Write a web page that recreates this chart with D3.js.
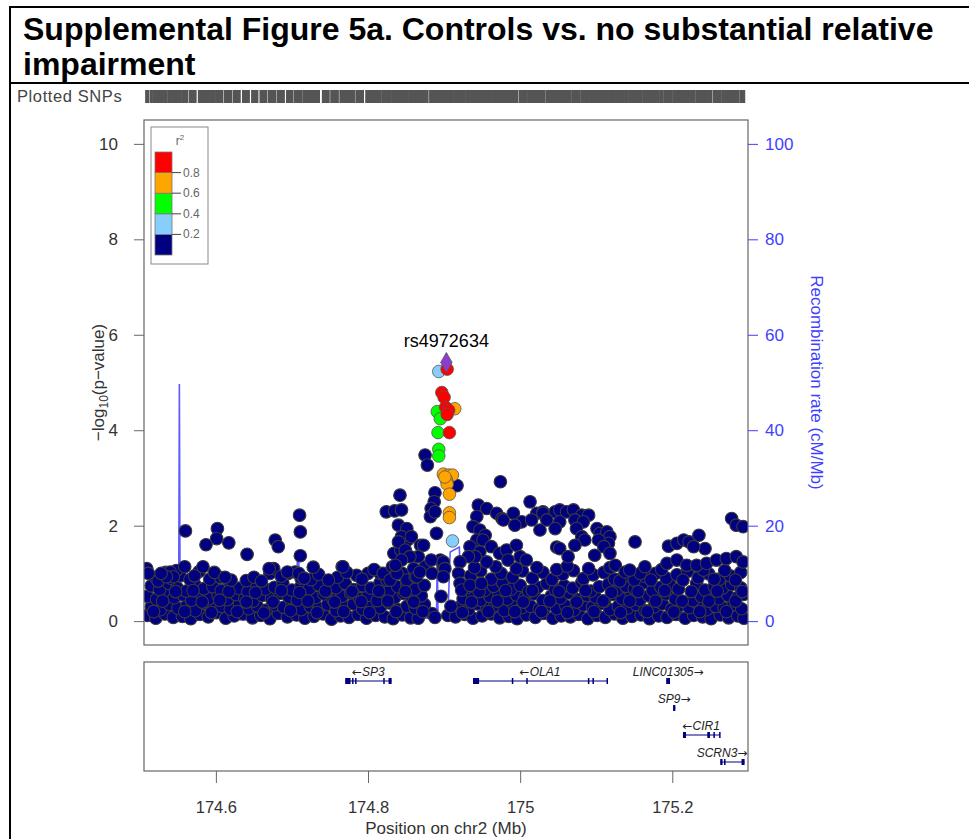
<!DOCTYPE html>
<html>
<head>
<meta charset="utf-8">
<script src="https://cdn.jsdelivr.net/npm/d3@7"></script>
<style>
  body { margin: 0; background: #fff; }
  svg { display: block; font-family: "Liberation Sans", Arial, sans-serif; }
</style>
</head>
<body>
<svg id="chart" width="969" height="839"></svg>
<script>
const titleLines = ['Supplemental Figure 5a. Controls vs. no substantial relative', 'impairment'];
const xTicks = [174.6, 174.8, 175, 175.2];
const yTicks = [0, 2, 4, 6, 8, 10];
const recombTicks = [0, 20, 40, 60, 80, 100];
const r2Breaks = [0.2, 0.4, 0.6, 0.8];
const r2Colors = ['#000080', '#87cefa', '#00ff00', '#ffa500', '#ff0000'];

const leadSnp = { name: 'rs4972634', pos: 174.903, logp: 5.42 };

// [position Mb, -log10 p, r2]
const ldSnps = [
  [174.893, 5.23, 0.3], [174.911, 1.68, 0.3],
  [174.891, 4.39, 0.5], [174.895, 4.24, 0.5], [174.892, 3.95, 0.5], [174.893, 3.60, 0.5], [174.893, 3.46, 0.5],
  [174.914, 4.45, 0.7], [174.899, 3.08, 0.7], [174.906, 3.06, 0.7], [174.911, 3.06, 0.7], [174.903, 2.96, 0.7],
  [174.904, 2.87, 0.7], [174.901, 3.02, 0.7], [174.907, 2.66, 0.7], [174.907, 2.27, 0.7], [174.907, 2.17, 0.7],
  [174.904, 5.28, 0.9], [174.897, 4.79, 0.9], [174.900, 4.69, 0.9], [174.902, 4.48, 0.9], [174.906, 4.42, 0.9],
  [174.904, 4.33, 0.9], [174.907, 3.95, 0.9]
];

// dense low band, [position Mb, -log10 p]
const bandLow = [
  [174.510, 0.12], [174.521, 0.06], [174.533, 0.15], [174.544, 0.08], [174.556, 0.10], [174.567, 0.05],
  [174.579, 0.14], [174.590, 0.09], [174.601, 0.18], [174.613, 0.06], [174.624, 0.11], [174.636, 0.15],
  [174.648, 0.07], [174.659, 0.12], [174.671, 0.05], [174.682, 0.16], [174.694, 0.09], [174.706, 0.13],
  [174.717, 0.06], [174.729, 0.10], [174.741, 0.15], [174.752, 0.04], [174.764, 0.11], [174.775, 0.08],
  [174.787, 0.14], [174.798, 0.06], [174.810, 0.12], [174.822, 0.09], [174.833, 0.05], [174.845, 0.13],
  [174.856, 0.07], [174.866, 0.06], [174.884, 0.16], [174.888, 0.08], [174.905, 0.12], [174.915, 0.09],
  [174.927, 0.14], [174.938, 0.06], [174.950, 0.11], [174.962, 0.15], [174.973, 0.07], [174.985, 0.10],
  [174.996, 0.05], [175.008, 0.13], [175.020, 0.08], [175.031, 0.16], [175.043, 0.06], [175.054, 0.11],
  [175.066, 0.09], [175.077, 0.14], [175.089, 0.05], [175.101, 0.12], [175.112, 0.08], [175.124, 0.15],
  [175.135, 0.06], [175.147, 0.10], [175.159, 0.13], [175.170, 0.05], [175.182, 0.11], [175.193, 0.08],
  [175.205, 0.14], [175.217, 0.06], [175.228, 0.12], [175.240, 0.09], [175.251, 0.05], [175.263, 0.13],
  [175.274, 0.07], [175.286, 0.11], [175.294, 0.06]
];

const bandMid = [
  [174.515, 0.30], [174.527, 0.24], [174.539, 0.35], [174.550, 0.27], [174.562, 0.33], [174.573, 0.22],
  [174.585, 0.38], [174.596, 0.28], [174.608, 0.31], [174.619, 0.25], [174.631, 0.36], [174.643, 0.26],
  [174.654, 0.32], [174.666, 0.23], [174.677, 0.34], [174.689, 0.29], [174.700, 0.37], [174.712, 0.24],
  [174.724, 0.31], [174.735, 0.27], [174.747, 0.35], [174.758, 0.22], [174.770, 0.30], [174.781, 0.36],
  [174.793, 0.25], [174.805, 0.33], [174.816, 0.28], [174.828, 0.38], [174.839, 0.24], [174.851, 0.31],
  [174.862, 0.27], [174.874, 0.35], [174.921, 0.30], [174.932, 0.24], [174.944, 0.36], [174.956, 0.27],
  [174.967, 0.33], [174.979, 0.22], [174.990, 0.37], [175.002, 0.28], [175.014, 0.31], [175.025, 0.25],
  [175.037, 0.35], [175.048, 0.26], [175.060, 0.32], [175.071, 0.23], [175.083, 0.34], [175.095, 0.29],
  [175.106, 0.37], [175.118, 0.24], [175.129, 0.31], [175.141, 0.27], [175.152, 0.35], [175.164, 0.22],
  [175.176, 0.30], [175.187, 0.36], [175.199, 0.25], [175.210, 0.33], [175.222, 0.28], [175.233, 0.38],
  [175.245, 0.24], [175.257, 0.31], [175.268, 0.27], [175.280, 0.35], [175.291, 0.26],
  [174.510, 0.52], [174.522, 0.46], [174.533, 0.57], [174.545, 0.49], [174.557, 0.55], [174.568, 0.44],
  [174.580, 0.58], [174.591, 0.47], [174.603, 0.53], [174.615, 0.45], [174.626, 0.56], [174.638, 0.48],
  [174.649, 0.42], [174.661, 0.54], [174.673, 0.47], [174.684, 0.58], [174.696, 0.50], [174.707, 0.44],
  [174.719, 0.55], [174.731, 0.49], [174.742, 0.57], [174.754, 0.45], [174.766, 0.52], [174.777, 0.59],
  [174.789, 0.47], [174.800, 0.54], [174.812, 0.43], [174.824, 0.56], [174.835, 0.49], [174.847, 0.58],
  [174.858, 0.46], [174.870, 0.53], [174.925, 0.47], [174.937, 0.56], [174.948, 0.44], [174.960, 0.52],
  [174.972, 0.58], [174.983, 0.46], [174.995, 0.55], [175.006, 0.49], [175.018, 0.57], [175.030, 0.43],
  [175.041, 0.53], [175.053, 0.48], [175.064, 0.59], [175.076, 0.45], [175.088, 0.54], [175.099, 0.50],
  [175.111, 0.42], [175.122, 0.56], [175.134, 0.47], [175.146, 0.58], [175.157, 0.44], [175.169, 0.53],
  [175.180, 0.49], [175.192, 0.57], [175.204, 0.46], [175.227, 0.43], [175.238, 0.52], [175.250, 0.58],
  [175.261, 0.47], [175.273, 0.54], [175.285, 0.49], [175.294, 0.56]
];

const bandHigh = [
  [174.515, 0.74], [174.526, 0.66], [174.538, 0.79], [174.549, 0.70], [174.561, 0.63], [174.572, 0.77],
  [174.584, 0.68], [174.596, 0.72], [174.607, 0.64], [174.619, 0.78], [174.630, 0.69], [174.642, 0.62],
  [174.654, 0.75], [174.665, 0.67], [174.677, 0.71], [174.688, 0.80], [174.700, 0.65], [174.712, 0.73],
  [174.723, 0.68], [174.735, 0.76], [174.746, 0.63], [174.758, 0.70], [174.770, 0.79], [174.781, 0.66],
  [174.793, 0.74], [174.804, 0.69], [174.816, 0.81], [174.828, 0.64], [174.839, 0.72], [174.851, 0.77],
  [174.862, 0.67], [174.874, 0.75], [174.930, 0.70], [174.942, 0.78], [174.953, 0.64], [174.965, 0.73],
  [174.977, 0.80], [174.988, 0.67], [175.000, 0.75], [175.011, 0.62], [175.023, 0.71], [175.035, 0.79],
  [175.046, 0.66], [175.058, 0.74], [175.069, 0.69], [175.081, 0.81], [175.093, 0.63], [175.104, 0.72],
  [175.116, 0.77], [175.127, 0.65], [175.139, 0.73], [175.150, 0.68], [175.162, 0.80], [175.174, 0.64],
  [175.185, 0.71], [175.197, 0.76], [175.208, 0.67], [175.232, 0.79], [175.243, 0.65], [175.255, 0.72],
  [175.266, 0.69], [175.278, 0.77], [175.290, 0.70],
  [174.509, 1.08], [174.520, 0.92], [174.534, 1.02], [174.541, 0.90], [174.553, 0.95], [174.566, 0.87],
  [174.578, 1.04], [174.592, 0.88], [174.606, 0.92], [174.640, 0.85], [174.671, 1.00], [174.676, 1.10],
  [174.695, 1.00], [174.704, 1.03], [174.712, 0.90], [174.725, 0.87], [174.760, 0.92], [174.785, 0.96],
  [174.800, 1.00], [174.816, 1.00], [174.825, 0.86], [174.845, 1.00], [174.851, 0.86], [174.862, 0.93],
  [174.935, 0.95], [174.948, 1.05], [174.962, 0.88], [174.975, 1.00], [174.990, 0.92], [175.003, 1.05],
  [175.016, 0.90], [175.030, 1.02], [175.042, 0.87], [175.056, 0.98], [175.070, 1.06], [175.083, 0.89],
  [175.096, 0.97], [175.110, 1.02], [175.124, 0.88], [175.137, 0.95], [175.150, 0.86], [175.165, 0.93],
  [175.178, 1.00], [175.192, 0.90], [175.206, 0.97], [175.220, 1.04], [175.234, 0.91], [175.248, 0.99],
  [175.262, 0.88], [175.276, 0.95], [175.290, 1.02]
];

const bandFill = [
  [174.518, 0.20], [174.530, 0.42], [174.547, 0.62], [174.559, 0.20], [174.570, 0.64], [174.582, 0.40],
  [174.594, 0.18], [174.605, 0.44], [174.617, 0.62], [174.628, 0.20], [174.640, 0.40], [174.652, 0.60],
  [174.663, 0.17], [174.675, 0.40], [174.686, 0.64], [174.698, 0.22], [174.710, 0.60], [174.721, 0.42],
  [174.733, 0.18], [174.744, 0.63], [174.756, 0.40], [174.768, 0.20], [174.779, 0.62], [174.791, 0.41],
  [174.802, 0.18], [174.814, 0.63], [174.826, 0.42], [174.837, 0.20], [174.849, 0.62], [174.860, 0.40],
  [174.872, 0.20], [174.924, 0.18], [174.936, 0.40], [174.946, 0.62], [174.958, 0.20], [174.970, 0.42],
  [174.981, 0.64], [174.993, 0.20], [175.004, 0.40], [175.016, 0.64], [175.028, 0.20], [175.039, 0.42],
  [175.051, 0.62], [175.062, 0.18], [175.074, 0.40], [175.086, 0.64], [175.097, 0.20], [175.109, 0.42],
  [175.120, 0.60], [175.132, 0.18], [175.144, 0.42], [175.155, 0.62], [175.167, 0.20], [175.178, 0.42],
  [175.190, 0.64], [175.202, 0.19], [175.213, 0.42], [175.225, 0.62], [175.236, 0.20], [175.248, 0.42],
  [175.259, 0.63], [175.271, 0.20], [175.283, 0.42], [175.292, 0.62],
  [174.524, 0.84], [174.548, 1.06], [174.572, 0.95], [174.598, 1.02], [174.620, 0.86], [174.650, 0.92],
  [174.660, 0.84], [174.686, 0.94], [174.735, 0.98], [174.748, 0.86], [174.772, 1.02], [174.792, 0.88],
  [174.808, 1.08], [174.940, 1.12], [174.968, 1.14], [174.995, 1.10], [175.022, 1.12], [175.048, 1.08],
  [175.062, 1.15], [175.090, 1.10], [175.118, 1.12], [175.131, 0.84], [175.158, 1.00], [175.172, 0.86],
  [175.186, 1.08], [175.214, 0.86], [175.241, 1.07], [175.255, 0.88], [175.269, 1.06], [175.283, 0.86]
];

const bgUpper = [
  [174.560, 1.89], [174.602, 1.94], [174.601, 1.73], [174.587, 1.60], [174.617, 1.64], [174.641, 1.40],
  [174.678, 1.70], [174.682, 1.56], [174.710, 2.22], [174.711, 1.87], [174.711, 1.37], [174.766, 1.14],
  [174.728, 1.13], [174.583, 1.14], [174.559, 1.14], [174.509, 1.10], [174.511, 1.00], [174.540, 1.03],
  [174.544, 0.93], [174.535, 0.93], [174.528, 1.00], [174.612, 0.92], [174.670, 1.10], [174.694, 1.03],
  [174.709, 1.00], [174.716, 0.90], [174.820, 1.00], [174.829, 0.86],
  [174.834, 1.42], [174.843, 1.49], [174.848, 1.35], [174.852, 1.70], [174.869, 1.59], [174.866, 1.35],
  [174.875, 1.14], [174.884, 1.00], [174.895, 1.28], [174.899, 1.14], [174.832, 1.14], [174.838, 1.00],
  [174.875, 3.48], [174.878, 3.27], [174.974, 2.92], [174.917, 2.84], [174.842, 2.64], [174.888, 2.69],
  [174.887, 2.50], [174.883, 2.36], [174.882, 2.19], [174.888, 2.29], [174.824, 2.29], [174.835, 2.31],
  [174.844, 2.33], [174.840, 2.01], [174.851, 1.94], [174.844, 1.77], [174.857, 1.77], [174.840, 1.66],
  [174.890, 1.84], [174.873, 1.59], [174.849, 1.49], [174.855, 1.35], [174.844, 1.28], [174.767, 1.14],
  [174.883, 1.28], [174.899, 1.24], [174.901, 1.10], [174.899, 0.93], [174.860, 1.10],
  [174.864, 0.93], [174.868, 1.03], [174.836, 1.17],
  [174.945, 2.43], [174.956, 2.36], [174.969, 2.26], [174.976, 2.15], [174.943, 2.19], [174.938, 1.98],
  [174.947, 1.91], [174.954, 1.80], [174.943, 1.70], [174.978, 2.12], [174.991, 2.26], [175.002, 2.08],
  [175.013, 2.50], [175.022, 2.26], [175.030, 2.29], [175.026, 1.91], [175.015, 2.12], [174.993, 2.01],
  [174.951, 1.70], [174.962, 1.56], [174.973, 1.42], [174.982, 1.49], [174.995, 1.59], [175.000, 1.35],
  [175.008, 1.28], [174.984, 1.28], [174.934, 1.56], [174.947, 1.45], [174.941, 1.35], [174.956, 1.24],
  [174.932, 1.35], [174.921, 1.24], [174.919, 1.00], [174.921, 0.79], [174.923, 0.65], [174.934, 0.75],
  [174.949, 0.79], [174.896, 0.52], [174.909, 0.31],
  [175.030, 2.26], [175.046, 2.29], [175.052, 2.33], [175.061, 2.29], [175.070, 2.33], [175.081, 2.22],
  [175.090, 2.22], [175.035, 2.12], [175.052, 2.08], [175.072, 2.12], [175.083, 2.08], [175.046, 1.94],
  [175.074, 1.94], [175.081, 1.77], [175.085, 1.70], [175.101, 1.94], [175.105, 1.84], [175.114, 1.87],
  [175.118, 1.77], [175.116, 1.63], [175.103, 1.70], [175.110, 1.56], [175.118, 1.42], [175.098, 1.38],
  [175.072, 1.59], [175.048, 1.55], [175.052, 1.52], [175.063, 1.35], [175.151, 1.66], [175.164, 1.14],
  [175.195, 1.57], [175.206, 1.63], [175.215, 1.70], [175.222, 1.66], [175.235, 1.80], [175.243, 1.52],
  [175.228, 1.56], [175.278, 2.15], [175.284, 2.01], [175.293, 1.98], [175.193, 1.21], [175.206, 1.28],
  [175.219, 1.17], [175.232, 1.17], [175.245, 1.21], [175.258, 1.28], [175.271, 1.31], [175.284, 1.35],
  [175.293, 1.24], [175.125, 1.17], [175.138, 1.03], [175.144, 1.07]
];

// [position Mb, cM/Mb]
const recombRate = [
  [174.506, 0.8], [174.550, 0.8], [174.551, 1.2], [174.552, 49.7], [174.553, 1.5], [174.560, 1.0],
  [174.575, 0.3], [174.590, 1.2], [174.600, 0.6], [174.601, 2.5], [174.606, 2.0], [174.607, 0.8],
  [174.622, 0.3], [174.640, 0.3], [174.660, 0.6], [174.690, 0.5], [174.706, 0.6], [174.707, 12.5],
  [174.709, 12.5], [174.710, 0.5], [174.760, 0.4], [174.800, 0.3], [174.840, 0.5], [174.880, 0.6],
  [174.890, 0.6], [174.891, 13.6], [174.892, 1.0], [174.905, 1.0], [174.908, 14.5], [174.920, 15.5],
  [174.922, 6.5], [174.925, 0.5], [174.980, 0.4], [175.000, 0.4], [175.030, 0.8], [175.040, 0.8],
  [175.045, 1.2], [175.085, 1.2], [175.086, 2.0], [175.100, 2.0], [175.101, 0.6], [175.140, 0.6],
  [175.141, 3.8], [175.145, 3.8], [175.146, 0.5], [175.200, 0.3], [175.270, 0.5], [175.275, 3.3],
  [175.285, 3.3], [175.287, 0.2], [175.300, 0.2]
];

const geneNames = ['SP3', 'OLA1', 'LINC01305', 'SP9', 'CIR1', 'SCRN3'];
const geneStart = [174.770, 174.938, 175.192, 175.201, 175.214, 175.263];
const geneEnd = [174.831, 175.114, 175.197, 175.204, 175.262, 175.295];
const geneStrand = ['-', '-', '+', '+', '-', '+'];
const geneRow = [0, 0, 0, 1, 2, 3];
const geneExons = [
  [[174.770, 174.777], [174.779, 174.7795], [174.783, 174.7835], [174.820, 174.8205], [174.827, 174.831]],
  [[174.938, 174.946], [174.989, 174.9895], [175.008, 175.0085], [175.089, 175.0895], [175.095, 175.0955], [175.1135, 175.114]],
  [[175.192, 175.197]],
  [[175.201, 175.204]],
  [[175.214, 175.218], [175.246, 175.2495], [175.254, 175.2545], [175.2615, 175.262]],
  [[175.263, 175.266], [175.268, 175.270], [175.291, 175.295]]
];

const chart = {
  plotLeft: 144,
  plotRight: 748,
  plotTop: 120,
  plotBottom: 645,
  geneTop: 662,
  geneBottom: 771,
  pointRadius: 6.3,
  textColor: '#333',
  recombColor: '#3f3fff',

  init() {
    this.svg = d3.select('#chart');
    this.x = d3.scaleLinear().domain([174.5055, 175.2995]).range([this.plotLeft, this.plotRight]);
    this.y = d3.scaleLinear().domain([-0.5, 10.5]).range([this.plotBottom, this.plotTop]);
    this.yRecomb = d3.scaleLinear().domain([-5, 105]).range([this.plotBottom, this.plotTop]);
    this.geneY = d3.scaleLinear().domain([0, 3]).range([681, 762]);
    this.colorScale = d3.scaleThreshold().domain(r2Breaks).range(r2Colors);

    this.drawTitle();
    this.drawRug();
    this.drawPlotFrame();
    this.drawRecomb();
    this.drawPoints();
    this.drawAxes();
    this.drawLegend();
    this.drawGenes();
  },

  drawTitle() {
    const g = this.svg.append('g');
    g.append('line').attr('x1', 9).attr('x2', 969).attr('y1', 7).attr('y2', 7)
      .attr('stroke', '#000').attr('stroke-width', 2);
    g.append('line').attr('x1', 10).attr('x2', 10).attr('y1', 6).attr('y2', 839)
      .attr('stroke', '#000').attr('stroke-width', 2);
    g.append('line').attr('x1', 10).attr('x2', 969).attr('y1', 83).attr('y2', 83)
      .attr('stroke', '#000').attr('stroke-width', 2);

    const texts = g.selectAll('text.title')
      .data(titleLines)
      .join('text')
      .attr('class', 'title')
      .attr('x', 23)
      .attr('y', (d, i) => 40 + i * 35)
      .attr('font-weight', 'bold')
      .attr('font-size', 30)
      .attr('fill', '#000')
      .text((d) => d);

    // fit the first line to the width used in the figure
    const width = texts.node().getComputedTextLength();
    const size = 30 * 911 / width;
    texts.attr('font-size', size);
  },

  allSnps() {
    return [].concat(bandLow, bandMid, bandHigh, bandFill, bgUpper, ldSnps, [[leadSnp.pos, leadSnp.logp]]);
  },

  drawRug() {
    this.svg.append('text')
      .attr('x', 17).attr('y', 102)
      .attr('font-size', 16.5)
      .attr('letter-spacing', 0.6)
      .attr('fill', '#444')
      .text('Plotted SNPs');

    this.svg.append('g')
      .selectAll('line')
      .data(this.allSnps())
      .join('line')
      .attr('x1', (d) => this.x(d[0]))
      .attr('x2', (d) => this.x(d[0]))
      .attr('y1', 90)
      .attr('y2', 103)
      .attr('stroke', '#555')
      .attr('stroke-width', 2.6);
  },

  drawPlotFrame() {
    this.svg.append('defs').append('clipPath').attr('id', 'plot-clip')
      .append('rect')
      .attr('x', this.plotLeft).attr('y', this.plotTop)
      .attr('width', this.plotRight - this.plotLeft)
      .attr('height', this.plotBottom - this.plotTop);
  },

  drawRecomb() {
    const line = d3.line()
      .x((d) => this.x(d[0]))
      .y((d) => this.yRecomb(d[1]));

    this.svg.append('path')
      .datum(recombRate)
      .attr('clip-path', 'url(#plot-clip)')
      .attr('fill', 'none')
      .attr('stroke', this.recombColor)
      .attr('stroke-opacity', 0.85)
      .attr('stroke-width', 1.6)
      .attr('d', line);
  },

  drawPoints() {
    const g = this.svg.append('g').attr('clip-path', 'url(#plot-clip)');
    const background = [].concat(bandLow, bandMid, bandHigh, bandFill, bgUpper);

    g.selectAll('circle.bg')
      .data(background)
      .join('circle')
      .attr('class', 'bg')
      .attr('cx', (d) => this.x(d[0]))
      .attr('cy', (d) => this.y(d[1]))
      .attr('r', this.pointRadius)
      .attr('fill', r2Colors[0])
      .attr('stroke', '#3a3a3a')
      .attr('stroke-width', 1.1);

    const sorted = ldSnps.slice().sort((a, b) => a[2] - b[2]);
    g.selectAll('circle.ld')
      .data(sorted)
      .join('circle')
      .attr('class', 'ld')
      .attr('cx', (d) => this.x(d[0]))
      .attr('cy', (d) => this.y(d[1]))
      .attr('r', this.pointRadius)
      .attr('fill', (d) => this.colorScale(d[2]))
      .attr('stroke', '#555')
      .attr('stroke-width', 0.8);

    g.append('path')
      .attr('d', d3.symbol().type(d3.symbolDiamond).size(115)())
      .attr('transform', `translate(${this.x(leadSnp.pos)},${this.y(leadSnp.logp)})`)
      .attr('fill', '#8e3ccb')
      .attr('stroke', '#555')
      .attr('stroke-width', 0.8);

    this.svg.append('text')
      .attr('x', this.x(leadSnp.pos))
      .attr('y', this.y(leadSnp.logp) - 15)
      .attr('text-anchor', 'middle')
      .attr('font-size', 18)
      .attr('fill', '#000')
      .text(leadSnp.name);
  },

  styleAxis(g, color, size) {
    g.select('.domain').remove();
    g.selectAll('.tick line').attr('stroke', color);
    g.selectAll('.tick text')
      .attr('fill', color)
      .attr('font-size', size)
      .attr('font-family', '"Liberation Sans", Arial, sans-serif');
  },

  drawAxes() {
    this.svg.append('rect')
      .attr('x', this.plotLeft).attr('y', this.plotTop)
      .attr('width', this.plotRight - this.plotLeft)
      .attr('height', this.plotBottom - this.plotTop)
      .attr('fill', 'none')
      .attr('stroke', '#666')
      .attr('stroke-width', 1.2);

    const left = this.svg.append('g')
      .attr('transform', `translate(${this.plotLeft},0)`)
      .call(d3.axisLeft(this.y).tickValues(yTicks).tickSize(10).tickPadding(16));
    this.styleAxis(left, this.textColor, 17);
    left.selectAll('.tick line').attr('stroke', '#666');

    const right = this.svg.append('g')
      .attr('transform', `translate(${this.plotRight},0)`)
      .call(d3.axisRight(this.yRecomb).tickValues(recombTicks).tickSize(10).tickPadding(7));
    this.styleAxis(right, this.recombColor, 17);

    const bottom = this.svg.append('g')
      .attr('transform', `translate(0,${this.geneBottom})`)
      .call(d3.axisBottom(this.x).tickValues(xTicks).tickSize(12).tickPadding(18)
        .tickFormat(d3.format('')));
    this.styleAxis(bottom, this.textColor, 16.5);
    bottom.selectAll('.tick line').attr('stroke', '#666');

    const yMid = (this.plotTop + this.plotBottom) / 2;
    const yLabel = this.svg.append('text')
      .attr('transform', `translate(104,${yMid}) rotate(-90)`)
      .attr('text-anchor', 'middle')
      .attr('font-size', 17)
      .attr('fill', this.textColor);
    yLabel.append('tspan').text('\u2212log');
    yLabel.append('tspan').attr('font-size', 12).attr('dy', 4).text('10');
    yLabel.append('tspan').attr('dy', -4).text('(p\u2212value)');

    this.svg.append('text')
      .attr('transform', `translate(811,${yMid}) rotate(90)`)
      .attr('text-anchor', 'middle')
      .attr('font-size', 17)
      .attr('fill', this.recombColor)
      .text('Recombination rate (cM/Mb)');

    this.svg.append('text')
      .attr('x', (this.plotLeft + this.plotRight) / 2)
      .attr('y', 834)
      .attr('text-anchor', 'middle')
      .attr('font-size', 17)
      .attr('fill', this.textColor)
      .text('Position on chr2 (Mb)');
  },

  drawLegend() {
    const g = this.svg.append('g');
    const ly = d3.scaleLinear().domain([0, 1]).range([255, 152]);
    const bins = [0, 0.2, 0.4, 0.6, 0.8];

    g.append('rect')
      .attr('x', 151).attr('y', 127).attr('width', 57).attr('height', 137)
      .attr('fill', '#fff').attr('stroke', '#888').attr('stroke-width', 1);

    const r2 = g.append('text')
      .attr('x', 180).attr('y', 145)
      .attr('text-anchor', 'middle')
      .attr('font-size', 12)
      .attr('fill', '#666');
    r2.append('tspan').text('r');
    r2.append('tspan').attr('font-size', 8).attr('dy', -5).text('2');

    g.selectAll('rect.bin')
      .data(bins)
      .join('rect')
      .attr('class', 'bin')
      .attr('x', 155)
      .attr('width', 17)
      .attr('y', (d) => ly(d + 0.2))
      .attr('height', (d) => ly(d) - ly(d + 0.2))
      .attr('fill', (d) => this.colorScale(d))
      .attr('stroke', '#777')
      .attr('stroke-width', 0.8);

    g.selectAll('line.tick')
      .data(r2Breaks)
      .join('line')
      .attr('class', 'tick')
      .attr('x1', 172).attr('x2', 181)
      .attr('y1', (d) => ly(d)).attr('y2', (d) => ly(d))
      .attr('stroke', '#444');

    g.selectAll('text.lab')
      .data(r2Breaks)
      .join('text')
      .attr('class', 'lab')
      .attr('x', 183)
      .attr('y', (d) => ly(d) + 4)
      .attr('font-size', 12)
      .attr('fill', '#666')
      .text((d) => d);
  },

  drawGenes() {
    const g = this.svg.append('g');
    g.append('rect')
      .attr('x', this.plotLeft).attr('y', this.geneTop)
      .attr('width', this.plotRight - this.plotLeft)
      .attr('height', this.geneBottom - this.geneTop)
      .attr('fill', 'none').attr('stroke', '#666').attr('stroke-width', 1.2);

    const genes = geneNames.map((name, i) => ({
      name,
      start: geneStart[i],
      end: geneEnd[i],
      strand: geneStrand[i],
      row: geneRow[i],
      exons: geneExons[i]
    }));

    const gene = g.selectAll('g.gene').data(genes).join('g').attr('class', 'gene');

    gene.append('line')
      .attr('x1', (d) => this.x(d.start))
      .attr('x2', (d) => this.x(d.end))
      .attr('y1', (d) => this.geneY(d.row))
      .attr('y2', (d) => this.geneY(d.row))
      .attr('stroke', '#000080')
      .attr('stroke-width', 1);

    gene.selectAll('rect')
      .data((d) => d.exons.map((e) => ({ e, row: d.row })))
      .join('rect')
      .attr('x', (d) => this.x(d.e[0]))
      .attr('width', (d) => Math.max(1.5, this.x(d.e[1]) - this.x(d.e[0])))
      .attr('y', (d) => this.geneY(d.row) - 3)
      .attr('height', 6)
      .attr('fill', '#000080');

    const label = gene.append('text')
      .attr('x', (d) => Math.min(this.x((d.start + d.end) / 2), 722))
      .attr('y', (d) => this.geneY(d.row) - 5)
      .attr('text-anchor', 'middle')
      .attr('font-size', 12)
      .attr('fill', '#222');
    label.append('tspan')
      .attr('font-family', '"DejaVu Sans", sans-serif')
      .text((d) => d.strand === '-' ? '\u2190' : '');
    label.append('tspan')
      .attr('font-style', 'italic')
      .text((d) => d.name);
    label.append('tspan')
      .attr('font-family', '"DejaVu Sans", sans-serif')
      .text((d) => d.strand === '+' ? '\u2192' : '');
  }
};

chart.init();
</script>
</body>
</html>
